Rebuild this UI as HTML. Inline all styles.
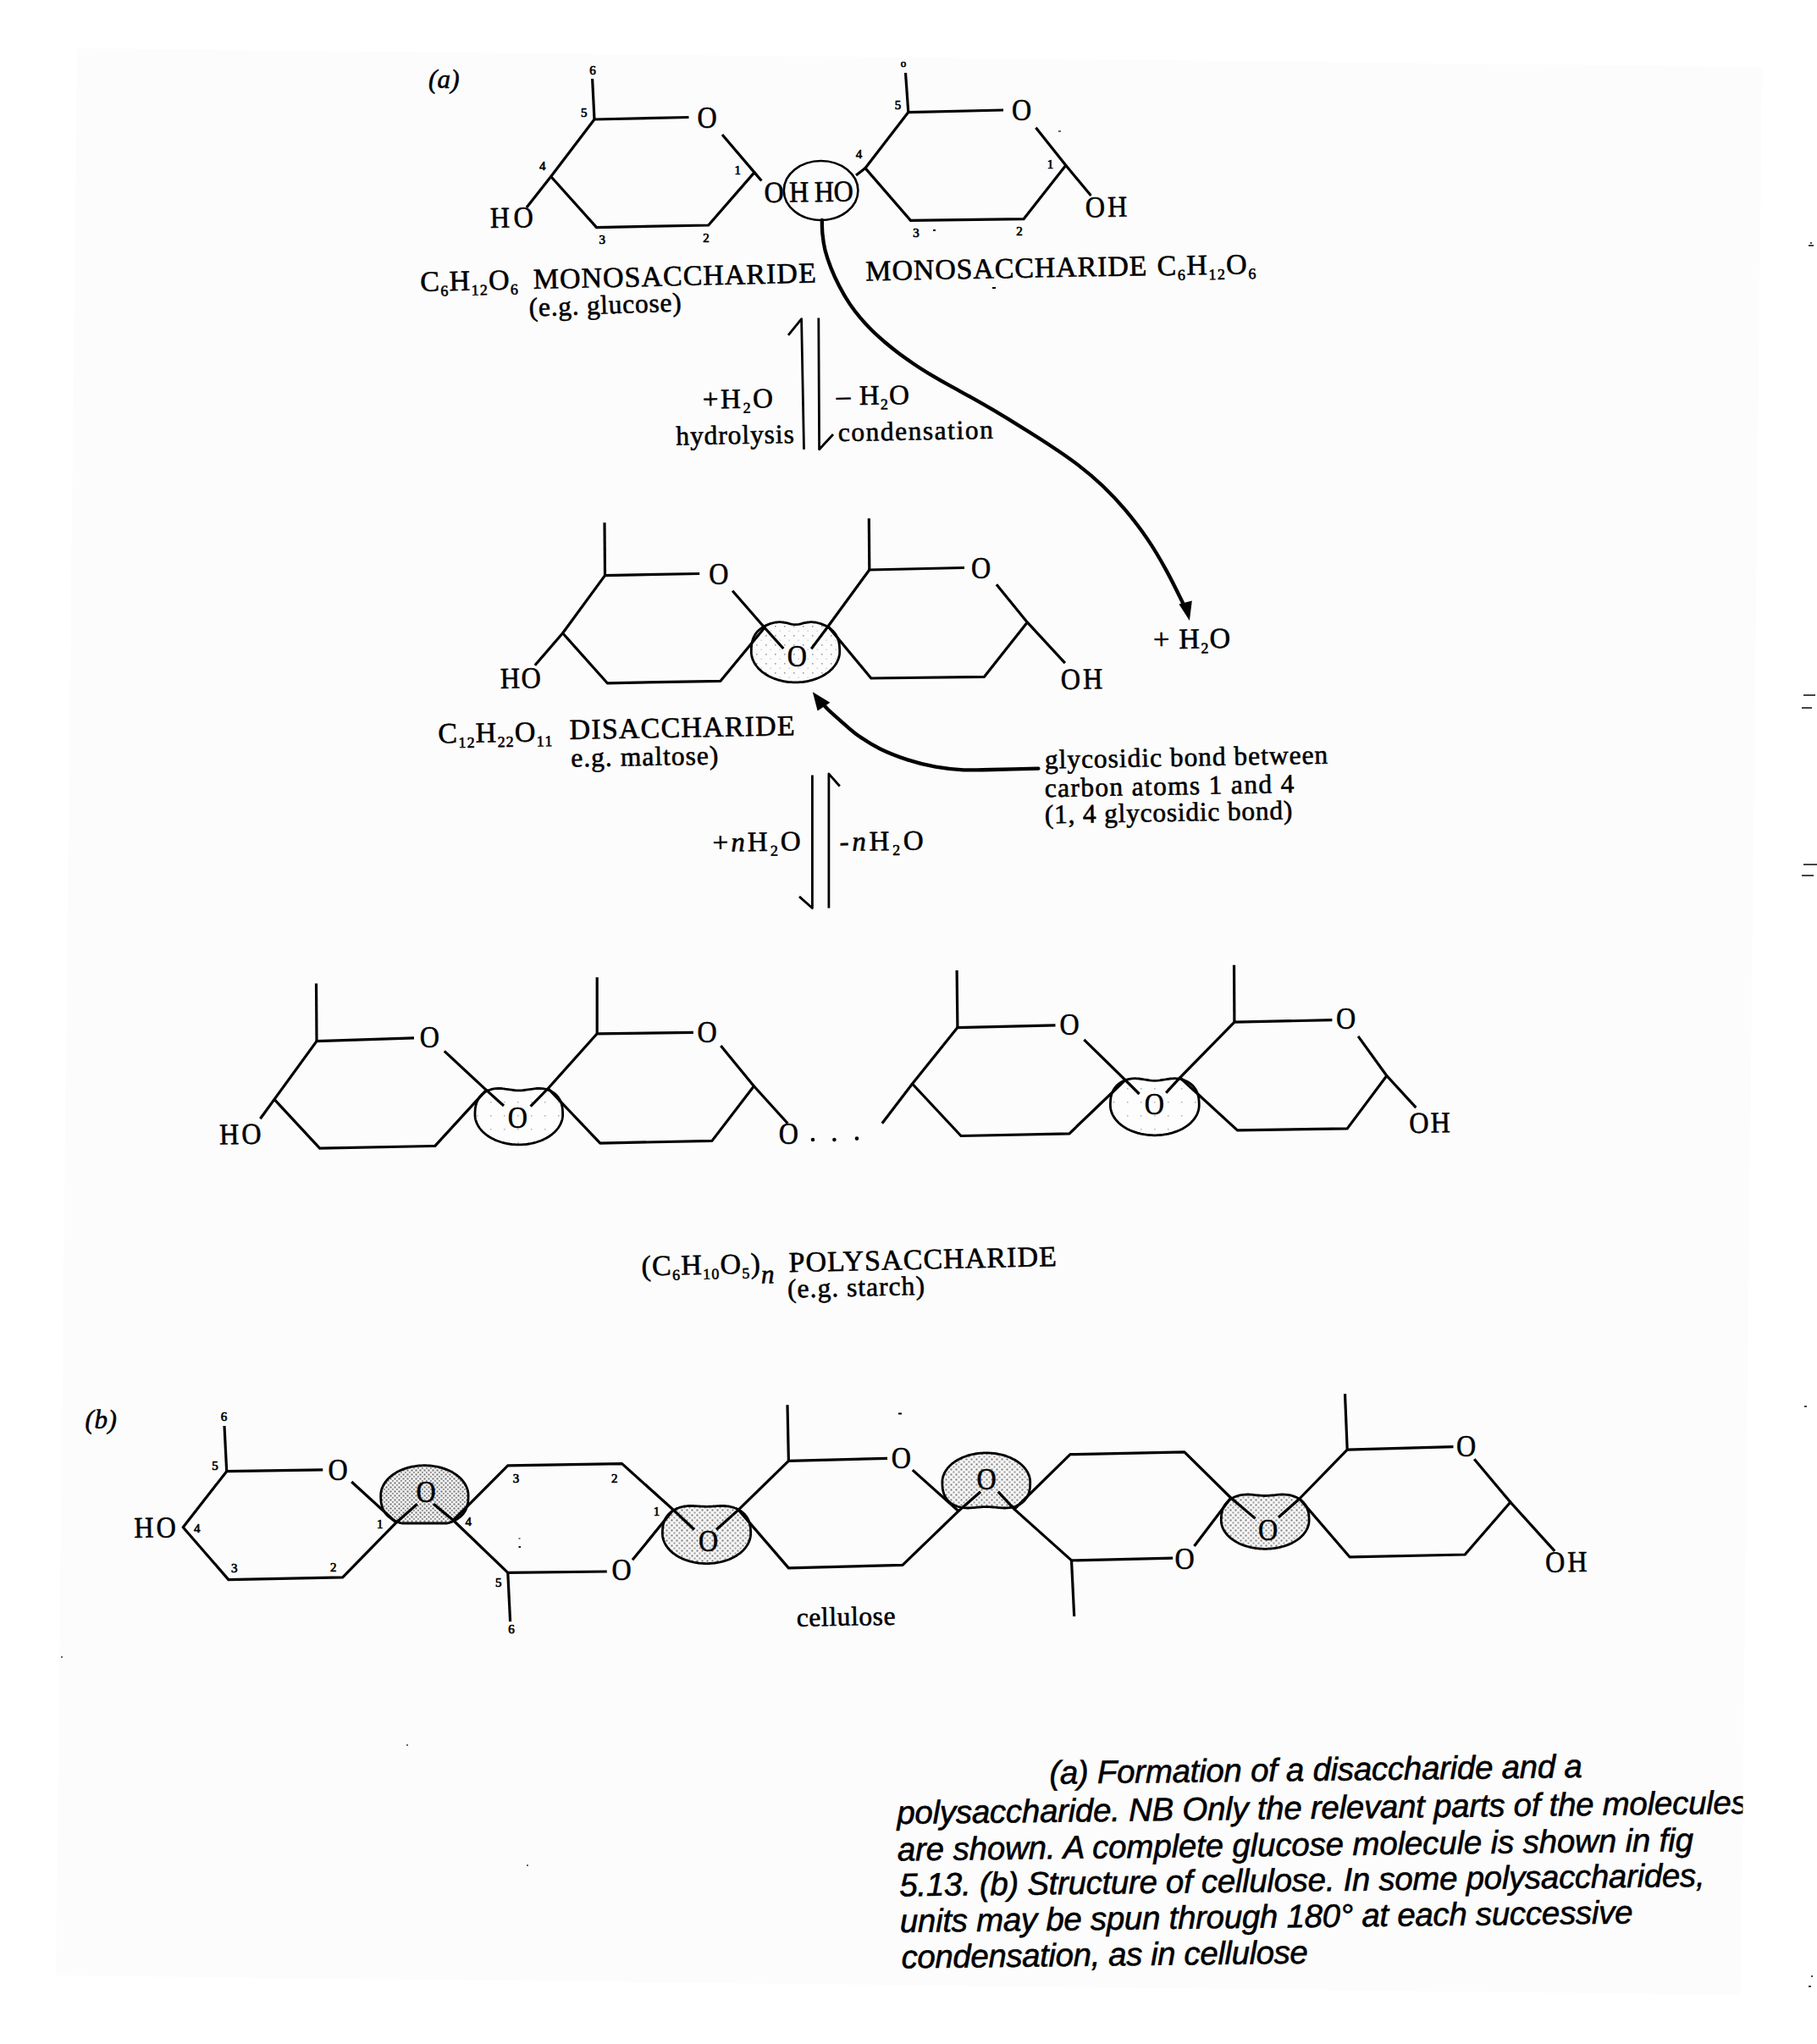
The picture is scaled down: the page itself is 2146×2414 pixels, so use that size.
<!DOCTYPE html>
<html><head><meta charset="utf-8"><style>
html,body{margin:0;padding:0;background:#fff;overflow:hidden;}
svg{display:block;}
</style></head><body>
<svg width="2146" height="2414" viewBox="0 0 2146 2414">
<defs>
<pattern id="stip" width="6" height="6" patternUnits="userSpaceOnUse">
<rect width="6" height="6" fill="#f6f6f6"/>
<rect x="0.5" y="0.5" width="2" height="2" fill="#7a7a7a"/>
<rect x="3.5" y="3.5" width="2" height="2" fill="#9a9a9a"/>
</pattern>
<pattern id="stip2" width="11" height="11" patternUnits="userSpaceOnUse">
<rect width="11" height="11" fill="#fcfcfc"/>
<rect x="2" y="2" width="1.6" height="1.6" fill="#a0a0a0"/>
<rect x="7.5" y="7.5" width="1.4" height="1.4" fill="#c8c8c8"/>
</pattern>
<pattern id="stip4" width="16" height="16" patternUnits="userSpaceOnUse">
<rect width="16" height="16" fill="#fdfdfd"/>
<rect x="3" y="5" width="1.5" height="1.5" fill="#b0b0b0"/>
</pattern>
<pattern id="stip3" width="5" height="5" patternUnits="userSpaceOnUse">
<rect width="5" height="5" fill="#f2f2f2"/>
<rect x="0.5" y="0.5" width="2" height="2" fill="#707070"/>
<rect x="3" y="3" width="1.8" height="1.8" fill="#8a8a8a"/>
</pattern>
<clipPath id="scan"><polygon points="91,57 2081,79 2056,2356 66,2333"/></clipPath>
</defs>
<rect width="2146" height="2414" fill="#fff"/>
<polygon points="91,57 2081,79 2056,2356 66,2333" fill="#fcfcfc"/>

<text x="0" y="0" transform="translate(506.0,103.5)" font-family="Liberation Serif" font-size="31" font-style="italic" textLength="36.5" lengthAdjust="spacing" stroke="#000" stroke-width="0.6" stroke-linejoin="round">(a)</text>
<polyline points="699.6,93.0 702.0,141.0" fill="none" stroke="#000" stroke-width="3.2" stroke-linejoin="round" stroke-linecap="butt"/>
<polyline points="813.5,138.5 702.0,141.0 650.7,208.5 704.6,268.6 836.7,266.0 891.0,203.6 853.0,159.0" fill="none" stroke="#000" stroke-width="3.2" stroke-linejoin="round" stroke-linecap="butt"/>
<text x="0" y="0" transform="translate(835.0,150.7) scale(0.88,1)" font-family="Liberation Serif" font-size="36.5" text-anchor="middle" stroke="#000" stroke-width="0.6" stroke-linejoin="round">O</text>
<polyline points="650.7,208.5 622.0,245.0" fill="none" stroke="#000" stroke-width="3.2" stroke-linejoin="round" stroke-linecap="butt"/>
<polyline points="891.0,203.6 899.4,213.5" fill="none" stroke="#000" stroke-width="3.2" stroke-linejoin="round" stroke-linecap="butt"/>
<text x="0" y="0" transform="translate(700.0,88.2)" font-family="Liberation Serif" font-size="15" text-anchor="middle" stroke="#000" stroke-width="0.7" stroke-linejoin="round">6</text>
<text x="0" y="0" transform="translate(689.7,137.8)" font-family="Liberation Serif" font-size="15" text-anchor="middle" stroke="#000" stroke-width="0.7" stroke-linejoin="round">5</text>
<text x="0" y="0" transform="translate(640.8,200.6)" font-family="Liberation Serif" font-size="15" text-anchor="middle" stroke="#000" stroke-width="0.7" stroke-linejoin="round">4</text>
<text x="0" y="0" transform="translate(871.3,205.6)" font-family="Liberation Serif" font-size="15" text-anchor="middle" stroke="#000" stroke-width="0.7" stroke-linejoin="round">1</text>
<text x="0" y="0" transform="translate(711.2,288.1)" font-family="Liberation Serif" font-size="15" text-anchor="middle" stroke="#000" stroke-width="0.7" stroke-linejoin="round">3</text>
<text x="0" y="0" transform="translate(834.0,286.4)" font-family="Liberation Serif" font-size="15" text-anchor="middle" stroke="#000" stroke-width="0.7" stroke-linejoin="round">2</text>
<text x="0" y="0" transform="translate(579.0,269.0) rotate(-1.0) scale(0.92,1)" font-family="Liberation Serif" font-size="35" textLength="55.4" lengthAdjust="spacing" stroke="#000" stroke-width="0.6" stroke-linejoin="round">HO</text>
<text x="0" y="0" transform="translate(902.7,239.0) rotate(-1.0) scale(0.92,1)" font-family="Liberation Serif" font-size="35" textLength="57.4" lengthAdjust="spacing" stroke="#000" stroke-width="0.6" stroke-linejoin="round">OH</text>
<text x="0" y="0" transform="translate(962.0,238.2) rotate(-1.0) scale(0.92,1)" font-family="Liberation Serif" font-size="35" textLength="50.0" lengthAdjust="spacing" stroke="#000" stroke-width="0.6" stroke-linejoin="round">HO</text>
<ellipse cx="969.6" cy="225" rx="43.8" ry="35" fill="none" stroke="#000" stroke-width="2.6"/>
<polyline points="1069.5,86.0 1072.8,132.6" fill="none" stroke="#000" stroke-width="3.2" stroke-linejoin="round" stroke-linecap="butt"/>
<polyline points="1185.0,130.0 1072.8,132.6 1022.0,198.6 1075.5,260.4 1209.0,258.7 1258.8,195.3 1223.4,150.7" fill="none" stroke="#000" stroke-width="3.2" stroke-linejoin="round" stroke-linecap="butt"/>
<text x="0" y="0" transform="translate(1206.5,142.2) scale(0.88,1)" font-family="Liberation Serif" font-size="36.5" text-anchor="middle" stroke="#000" stroke-width="0.6" stroke-linejoin="round">O</text>
<polyline points="1022.0,198.6 1011.0,207.0" fill="none" stroke="#000" stroke-width="3.2" stroke-linejoin="round" stroke-linecap="butt"/>
<polyline points="1258.8,195.3 1288.5,231.0" fill="none" stroke="#000" stroke-width="3.2" stroke-linejoin="round" stroke-linecap="butt"/>
<text x="0" y="0" transform="translate(1282.0,256.4) rotate(-1.0) scale(0.92,1)" font-family="Liberation Serif" font-size="35" textLength="53.8" lengthAdjust="spacing" stroke="#000" stroke-width="0.6" stroke-linejoin="round">OH</text>
<text x="0" y="0" transform="translate(1067.0,79.3)" font-family="Liberation Serif" font-size="13" text-anchor="middle" stroke="#000" stroke-width="0.7" stroke-linejoin="round">o</text>
<text x="0" y="0" transform="translate(1060.6,129.2)" font-family="Liberation Serif" font-size="15" text-anchor="middle" stroke="#000" stroke-width="0.7" stroke-linejoin="round">5</text>
<text x="0" y="0" transform="translate(1014.4,187.2)" font-family="Liberation Serif" font-size="15" text-anchor="middle" stroke="#000" stroke-width="0.7" stroke-linejoin="round">4</text>
<text x="0" y="0" transform="translate(1240.6,198.9)" font-family="Liberation Serif" font-size="15" text-anchor="middle" stroke="#000" stroke-width="0.7" stroke-linejoin="round">1</text>
<text x="0" y="0" transform="translate(1082.0,279.9)" font-family="Liberation Serif" font-size="15" text-anchor="middle" stroke="#000" stroke-width="0.7" stroke-linejoin="round">3</text>
<text x="0" y="0" transform="translate(1204.0,278.2)" font-family="Liberation Serif" font-size="15" text-anchor="middle" stroke="#000" stroke-width="0.7" stroke-linejoin="round">2</text>
<rect x="1102" y="271" width="3" height="2" fill="#000"/>
<text x="0" y="0" transform="translate(496.5,344.1) rotate(-1.3)" font-family="Liberation Serif" font-size="34" textLength="115.5" lengthAdjust="spacing" stroke="#000" stroke-width="0.6" stroke-linejoin="round"><tspan>C</tspan><tspan font-size="18" dy="6">6</tspan><tspan dy="-6">H</tspan><tspan font-size="18" dy="6">12</tspan><tspan dy="-6">O</tspan><tspan font-size="18" dy="6">6</tspan></text>
<text x="0" y="0" transform="translate(630.0,341.1) rotate(-1.3)" font-family="Liberation Serif" font-size="34" textLength="334.0" lengthAdjust="spacing" stroke="#000" stroke-width="0.6" stroke-linejoin="round">MONOSACCHARIDE</text>
<text x="0" y="0" transform="translate(625.0,373.6) rotate(-2.0)" font-family="Liberation Serif" font-size="31.5" textLength="180.0" lengthAdjust="spacing" stroke="#000" stroke-width="0.6" stroke-linejoin="round">(e.g. glucose)</text>
<text x="0" y="0" transform="translate(1022.6,331.4) rotate(-1.1)" font-family="Liberation Serif" font-size="34" textLength="332.0" lengthAdjust="spacing" stroke="#000" stroke-width="0.6" stroke-linejoin="round">MONOSACCHARIDE</text>
<text x="0" y="0" transform="translate(1366.8,325.2) rotate(-1.0)" font-family="Liberation Serif" font-size="34" textLength="116.6" lengthAdjust="spacing" stroke="#000" stroke-width="0.6" stroke-linejoin="round"><tspan>C</tspan><tspan font-size="18" dy="6">6</tspan><tspan dy="-6">H</tspan><tspan font-size="18" dy="6">12</tspan><tspan dy="-6">O</tspan><tspan font-size="18" dy="6">6</tspan></text>
<rect x="1172" y="339" width="4" height="2" fill="#000"/>
<polyline points="949.5,530.7 946.6,376.6 931.0,395.9" fill="none" stroke="#000" stroke-width="2.8" stroke-linejoin="round" stroke-linecap="butt"/>
<polyline points="966.8,375.5 967.6,530.7 984.0,513.0" fill="none" stroke="#000" stroke-width="2.8" stroke-linejoin="round" stroke-linecap="butt"/>
<text x="0" y="0" transform="translate(830.0,482.5) rotate(-1.0)" font-family="Liberation Serif" font-size="33" textLength="83.0" lengthAdjust="spacing" stroke="#000" stroke-width="0.6" stroke-linejoin="round"><tspan>+H</tspan><tspan font-size="18" dy="6">2</tspan><tspan dy="-6">O</tspan></text>
<text x="0" y="0" transform="translate(798.5,525.4) rotate(-1.0)" font-family="Liberation Serif" font-size="31.5" textLength="139.5" lengthAdjust="spacing" stroke="#000" stroke-width="0.6" stroke-linejoin="round">hydrolysis</text>
<text x="0" y="0" transform="translate(988.0,478.5) rotate(-1.0)" font-family="Liberation Serif" font-size="33" textLength="86.0" lengthAdjust="spacing" stroke="#000" stroke-width="0.6" stroke-linejoin="round"><tspan>– H</tspan><tspan font-size="18" dy="6">2</tspan><tspan dy="-6">O</tspan></text>
<text x="0" y="0" transform="translate(990.0,521.0) rotate(-1.0)" font-family="Liberation Serif" font-size="31.5" textLength="183.0" lengthAdjust="spacing" stroke="#000" stroke-width="0.6" stroke-linejoin="round">condensation</text>
<path d="M970.8,259.9 C970.9,262.8 970.8,271.2 971.5,277.1 C972.1,283.0 972.9,289.0 974.5,295.5 C976.2,302.0 978.5,309.0 981.3,316.1 C984.1,323.2 987.6,330.9 991.3,338.0 C995.0,345.1 999.2,352.3 1003.4,358.6 C1007.7,365.0 1012.1,370.7 1016.8,376.2 C1021.4,381.7 1026.3,386.7 1031.2,391.5 C1036.1,396.3 1041.2,400.8 1046.2,405.0 C1051.2,409.2 1055.8,412.9 1061.2,417.0 C1066.6,421.0 1072.1,425.0 1078.4,429.2 C1084.7,433.5 1091.8,438.0 1099.0,442.4 C1106.2,446.7 1113.9,451.1 1121.7,455.4 C1129.5,459.8 1137.1,463.7 1145.7,468.5 C1154.3,473.3 1163.1,478.2 1173.0,484.2 C1183.0,490.1 1194.4,497.0 1205.7,504.1 C1217.0,511.1 1229.5,518.9 1240.9,526.5 C1252.3,534.0 1263.6,541.7 1273.9,549.6 C1284.2,557.5 1293.3,565.2 1302.5,574.0 C1311.7,582.8 1320.3,591.9 1329.0,602.1 C1337.6,612.4 1346.5,623.8 1354.5,635.6 C1362.6,647.4 1370.2,660.3 1377.2,673.1 C1384.3,685.8 1393.7,705.5 1397.0,712.0" fill="none" stroke="#000" stroke-width="4.3" stroke-linecap="round"/>
<polygon points="1392.4,713.5 1407.8,709.5 1404.9,733" fill="#000"/>
<text x="0" y="0" transform="translate(1362.3,766.5) rotate(-1.0)" font-family="Liberation Serif" font-size="34" textLength="91.0" lengthAdjust="spacing" stroke="#000" stroke-width="0.6" stroke-linejoin="round"><tspan>+ H</tspan><tspan font-size="18" dy="6">2</tspan><tspan dy="-6">O</tspan></text>
<path d="M991.7,769.5 L991.7,770.6 L991.6,771.8 L991.5,772.9 L991.3,774.1 L991.1,775.2 L990.8,776.3 L990.4,777.4 L990.1,778.6 L989.6,779.7 L989.1,780.7 L988.6,781.8 L988.0,782.9 L987.4,784.0 L986.7,785.0 L986.0,786.0 L985.2,787.0 L984.4,788.0 L983.6,789.0 L982.7,790.0 L981.7,790.9 L980.7,791.8 L979.7,792.7 L978.7,793.6 L977.6,794.4 L976.4,795.2 L975.2,796.0 L974.0,796.8 L972.8,797.5 L971.5,798.3 L970.2,798.9 L968.8,799.6 L967.5,800.2 L966.1,800.8 L964.6,801.4 L963.2,801.9 L961.7,802.4 L960.2,802.9 L958.7,803.3 L957.2,803.7 L955.6,804.1 L954.1,804.5 L952.5,804.8 L950.9,805.0 L949.3,805.3 L947.7,805.5 L946.0,805.6 L944.4,805.7 L942.8,805.8 L941.1,805.9 L939.5,805.9 L937.9,805.9 L936.2,805.8 L934.6,805.7 L933.0,805.6 L931.3,805.5 L929.7,805.3 L928.1,805.0 L926.5,804.8 L924.9,804.5 L923.4,804.1 L921.8,803.7 L920.3,803.3 L918.8,802.9 L917.3,802.4 L915.8,801.9 L914.4,801.4 L912.9,800.8 L911.5,800.2 L910.2,799.6 L908.8,798.9 L907.5,798.3 L906.2,797.5 L905.0,796.8 L903.8,796.0 L902.6,795.2 L901.4,794.4 L900.3,793.6 L899.3,792.7 L898.3,791.8 L897.3,790.9 L896.3,790.0 L895.4,789.0 L894.6,788.0 L893.8,787.0 L893.0,786.0 L892.3,785.0 L891.6,784.0 L891.0,782.9 L890.4,781.8 L889.9,780.7 L889.4,779.7 L888.9,778.6 L888.6,777.4 L888.2,776.3 L887.9,775.2 L887.7,774.1 L887.5,772.9 L887.4,771.8 L887.3,770.6 L887.3,769.5 L887.3,767.0 L887.4,765.2 L887.5,763.6 L887.6,762.1 L887.8,760.8 L888.0,759.5 L888.3,758.2 L888.6,757.0 L888.9,755.9 L889.3,754.8 L889.7,753.7 L890.1,752.6 L890.6,751.6 L891.2,750.6 L891.7,749.7 L892.3,748.7 L893.0,747.8 L893.7,747.0 L894.4,746.1 L895.2,745.3 L896.0,744.5 L896.8,743.8 L897.7,743.0 L898.6,742.3 L899.5,741.6 L900.5,741.0 L901.5,740.3 L902.6,739.7 L903.7,739.1 L904.8,738.6 L906.0,738.1 L907.2,737.6 L908.4,737.1 L909.7,736.6 L911.1,736.2 L912.4,735.9 L913.8,735.5 L915.3,735.2 L916.8,735.0 L918.3,734.8 L919.9,734.7 L921.6,734.7 L923.3,734.8 L925.1,735.0 L927.0,735.3 L928.9,735.7 L931.0,736.2 L933.3,736.8 L935.9,737.3 L939.5,737.6 L943.1,737.3 L945.7,736.8 L948.0,736.2 L950.1,735.7 L952.0,735.3 L953.9,735.0 L955.7,734.8 L957.4,734.7 L959.1,734.7 L960.7,734.8 L962.2,735.0 L963.7,735.2 L965.2,735.5 L966.6,735.9 L967.9,736.2 L969.3,736.6 L970.6,737.1 L971.8,737.6 L973.0,738.1 L974.2,738.6 L975.3,739.1 L976.4,739.7 L977.5,740.3 L978.5,741.0 L979.5,741.6 L980.4,742.3 L981.3,743.0 L982.2,743.8 L983.0,744.5 L983.8,745.3 L984.6,746.1 L985.3,747.0 L986.0,747.8 L986.7,748.7 L987.3,749.7 L987.8,750.6 L988.4,751.6 L988.9,752.6 L989.3,753.7 L989.7,754.8 L990.1,755.9 L990.4,757.0 L990.7,758.2 L991.0,759.5 L991.2,760.8 L991.4,762.1 L991.5,763.6 L991.6,765.2 L991.7,767.0 L991.7,769.5Z" fill="url(#stip2)" stroke="#000" stroke-width="2.8" stroke-linejoin="round"/>
<polyline points="714.0,617.3 714.5,679.6" fill="none" stroke="#000" stroke-width="3.2" stroke-linejoin="round" stroke-linecap="butt"/>
<polyline points="826.2,677.5 714.5,679.6 664.6,747.8 717.3,806.8 851.0,804.3 903.0,741.2 865.1,697.8" fill="none" stroke="#000" stroke-width="3.2" stroke-linejoin="round" stroke-linecap="butt"/>
<text x="0" y="0" transform="translate(848.8,689.7) scale(0.88,1)" font-family="Liberation Serif" font-size="36.5" text-anchor="middle" stroke="#000" stroke-width="0.6" stroke-linejoin="round">O</text>
<polyline points="903.0,741.2 925.3,766.0" fill="none" stroke="#000" stroke-width="3.2" stroke-linejoin="round" stroke-linecap="butt"/>
<polyline points="664.6,747.8 631.8,785.7" fill="none" stroke="#000" stroke-width="3.2" stroke-linejoin="round" stroke-linecap="butt"/>
<text x="0" y="0" transform="translate(591.0,813.0) rotate(-1.0) scale(0.92,1)" font-family="Liberation Serif" font-size="35" textLength="52.2" lengthAdjust="spacing" stroke="#000" stroke-width="0.6" stroke-linejoin="round">HO</text>
<text x="0" y="0" transform="translate(941.4,787.2) scale(0.88,1)" font-family="Liberation Serif" font-size="36.5" text-anchor="middle" stroke="#000" stroke-width="0.6" stroke-linejoin="round">O</text>
<polyline points="1026.3,612.3 1026.8,673.0" fill="none" stroke="#000" stroke-width="3.2" stroke-linejoin="round" stroke-linecap="butt"/>
<polyline points="1139.0,670.5 1026.8,673.0 978.0,739.8 1028.8,801.0 1162.5,799.3 1213.3,734.9 1176.9,690.3" fill="none" stroke="#000" stroke-width="3.2" stroke-linejoin="round" stroke-linecap="butt"/>
<text x="0" y="0" transform="translate(1158.6,682.9) scale(0.88,1)" font-family="Liberation Serif" font-size="36.5" text-anchor="middle" stroke="#000" stroke-width="0.6" stroke-linejoin="round">O</text>
<polyline points="978.0,739.8 958.2,766.3" fill="none" stroke="#000" stroke-width="3.2" stroke-linejoin="round" stroke-linecap="butt"/>
<polyline points="1213.3,734.9 1257.9,783.2" fill="none" stroke="#000" stroke-width="3.2" stroke-linejoin="round" stroke-linecap="butt"/>
<text x="0" y="0" transform="translate(1253.0,814.0) rotate(-1.0) scale(0.92,1)" font-family="Liberation Serif" font-size="35" textLength="53.8" lengthAdjust="spacing" stroke="#000" stroke-width="0.6" stroke-linejoin="round">OH</text>
<text x="0" y="0" transform="translate(517.5,877.5) rotate(-1.0)" font-family="Liberation Serif" font-size="34" textLength="134.8" lengthAdjust="spacing" stroke="#000" stroke-width="0.6" stroke-linejoin="round"><tspan>C</tspan><tspan font-size="18" dy="6">12</tspan><tspan dy="-6">H</tspan><tspan font-size="18" dy="6">22</tspan><tspan dy="-6">O</tspan><tspan font-size="18" dy="6">11</tspan></text>
<text x="0" y="0" transform="translate(672.8,872.9) rotate(-1.0)" font-family="Liberation Serif" font-size="34" textLength="266.0" lengthAdjust="spacing" stroke="#000" stroke-width="0.6" stroke-linejoin="round">DISACCHARIDE</text>
<text x="0" y="0" transform="translate(674.5,905.5) rotate(-1.0)" font-family="Liberation Serif" font-size="31.5" textLength="174.0" lengthAdjust="spacing" stroke="#000" stroke-width="0.6" stroke-linejoin="round">e.g. maltose)</text>
<path d="M1226.4,907.6 C1217.2,907.8 1185.8,908.7 1171.1,909.0 C1156.4,909.3 1149.1,909.8 1138.1,909.3 C1127.1,908.8 1116.1,907.7 1105.1,905.7 C1094.1,903.7 1083.1,901.0 1072.1,897.4 C1061.1,893.8 1048.7,888.9 1039.1,884.2 C1029.5,879.5 1021.7,874.5 1014.3,869.3 C1006.9,864.1 1000.5,858.0 994.5,852.8 C988.5,847.6 982.1,842.0 978.0,838.0 C973.9,834.0 971.3,830.5 970.0,829.0" fill="none" stroke="#000" stroke-width="4.3" stroke-linecap="round"/>
<polygon points="959.8,817.3 965.6,839.6 980.4,829.7" fill="#000"/>
<text x="0" y="0" transform="translate(1234.0,907.5) rotate(-1.0)" font-family="Liberation Serif" font-size="31.5" textLength="334.4" lengthAdjust="spacing" stroke="#000" stroke-width="0.6" stroke-linejoin="round">glycosidic bond between</text>
<text x="0" y="0" transform="translate(1234.0,941.2) rotate(-1.0)" font-family="Liberation Serif" font-size="31.5" textLength="294.5" lengthAdjust="spacing" stroke="#000" stroke-width="0.6" stroke-linejoin="round">carbon atoms 1 and 4</text>
<text x="0" y="0" transform="translate(1234.0,972.5) rotate(-1.0)" font-family="Liberation Serif" font-size="31.5" textLength="292.6" lengthAdjust="spacing" stroke="#000" stroke-width="0.6" stroke-linejoin="round">(1, 4 glycosidic bond)</text>
<polyline points="959.4,915.5 959.4,1072.5 944.0,1058.9" fill="none" stroke="#000" stroke-width="2.8" stroke-linejoin="round" stroke-linecap="butt"/>
<polyline points="978.9,1072.5 978.9,913.8 991.8,928.5" fill="none" stroke="#000" stroke-width="2.8" stroke-linejoin="round" stroke-linecap="butt"/>
<text x="0" y="0" transform="translate(841.7,1006.0) rotate(-1.0)" font-family="Liberation Serif" font-size="33" textLength="104.1" lengthAdjust="spacing" stroke="#000" stroke-width="0.6" stroke-linejoin="round"><tspan>+</tspan><tspan font-style="italic">n</tspan><tspan>H</tspan><tspan font-size="18" dy="6">2</tspan><tspan dy="-6">O</tspan></text>
<text x="0" y="0" transform="translate(991.8,1005.0) rotate(-1.0)" font-family="Liberation Serif" font-size="33" textLength="99.0" lengthAdjust="spacing" stroke="#000" stroke-width="0.6" stroke-linejoin="round"><tspan>-</tspan><tspan font-style="italic">n</tspan><tspan>H</tspan><tspan font-size="18" dy="6">2</tspan><tspan dy="-6">O</tspan></text>
<path d="M664.6,1316.4 L664.6,1317.5 L664.5,1318.6 L664.4,1319.7 L664.2,1320.8 L664.0,1322.0 L663.7,1323.1 L663.4,1324.1 L663.0,1325.2 L662.5,1326.3 L662.1,1327.4 L661.5,1328.4 L661.0,1329.5 L660.3,1330.5 L659.7,1331.5 L659.0,1332.5 L658.2,1333.5 L657.4,1334.5 L656.5,1335.4 L655.6,1336.4 L654.7,1337.3 L653.7,1338.2 L652.7,1339.0 L651.7,1339.9 L650.6,1340.7 L649.4,1341.5 L648.3,1342.3 L647.1,1343.0 L645.8,1343.8 L644.5,1344.5 L643.2,1345.1 L641.9,1345.8 L640.6,1346.4 L639.2,1347.0 L637.8,1347.5 L636.3,1348.0 L634.9,1348.5 L633.4,1349.0 L631.9,1349.4 L630.3,1349.8 L628.8,1350.2 L627.3,1350.5 L625.7,1350.8 L624.1,1351.0 L622.5,1351.3 L620.9,1351.5 L619.3,1351.6 L617.7,1351.7 L616.1,1351.8 L614.4,1351.9 L612.8,1351.9 L611.2,1351.9 L609.5,1351.8 L607.9,1351.7 L606.3,1351.6 L604.7,1351.5 L603.1,1351.3 L601.5,1351.0 L599.9,1350.8 L598.3,1350.5 L596.8,1350.2 L595.3,1349.8 L593.7,1349.4 L592.2,1349.0 L590.7,1348.5 L589.3,1348.0 L587.8,1347.5 L586.4,1347.0 L585.0,1346.4 L583.7,1345.8 L582.4,1345.1 L581.1,1344.5 L579.8,1343.8 L578.5,1343.0 L577.3,1342.3 L576.2,1341.5 L575.0,1340.7 L573.9,1339.9 L572.9,1339.0 L571.9,1338.2 L570.9,1337.3 L570.0,1336.4 L569.1,1335.4 L568.2,1334.5 L567.4,1333.5 L566.6,1332.5 L565.9,1331.5 L565.3,1330.5 L564.6,1329.5 L564.1,1328.4 L563.5,1327.4 L563.1,1326.3 L562.6,1325.2 L562.2,1324.1 L561.9,1323.1 L561.6,1322.0 L561.4,1320.8 L561.2,1319.7 L561.1,1318.6 L561.0,1317.5 L561.0,1316.4 L561.0,1314.0 L561.1,1312.2 L561.2,1310.7 L561.3,1309.3 L561.5,1308.0 L561.7,1306.7 L562.0,1305.5 L562.3,1304.3 L562.6,1303.2 L563.0,1302.1 L563.4,1301.1 L563.8,1300.1 L564.3,1299.1 L564.8,1298.1 L565.4,1297.2 L566.0,1296.3 L566.6,1295.5 L567.3,1294.6 L568.0,1293.8 L568.8,1293.1 L569.6,1292.3 L570.4,1291.6 L571.3,1290.9 L572.2,1290.3 L573.1,1289.7 L574.1,1289.1 L575.1,1288.6 L576.2,1288.1 L577.3,1287.6 L578.4,1287.2 L579.5,1286.8 L580.7,1286.4 L582.0,1286.1 L583.3,1285.9 L584.6,1285.7 L585.9,1285.6 L587.3,1285.5 L588.8,1285.4 L590.3,1285.5 L591.8,1285.5 L593.4,1285.7 L595.0,1285.8 L596.7,1286.1 L598.5,1286.3 L600.4,1286.6 L602.3,1286.9 L604.4,1287.2 L606.6,1287.5 L609.2,1287.8 L612.8,1287.9 L616.4,1287.8 L619.0,1287.5 L621.2,1287.2 L623.3,1286.9 L625.2,1286.6 L627.1,1286.3 L628.9,1286.1 L630.6,1285.8 L632.2,1285.7 L633.8,1285.5 L635.3,1285.5 L636.8,1285.4 L638.3,1285.5 L639.7,1285.6 L641.0,1285.7 L642.3,1285.9 L643.6,1286.1 L644.9,1286.4 L646.1,1286.8 L647.2,1287.2 L648.3,1287.6 L649.4,1288.1 L650.5,1288.6 L651.5,1289.1 L652.5,1289.7 L653.4,1290.3 L654.3,1290.9 L655.2,1291.6 L656.0,1292.3 L656.8,1293.1 L657.6,1293.8 L658.3,1294.6 L659.0,1295.5 L659.6,1296.3 L660.2,1297.2 L660.8,1298.1 L661.3,1299.1 L661.8,1300.1 L662.2,1301.1 L662.6,1302.1 L663.0,1303.2 L663.3,1304.3 L663.6,1305.5 L663.9,1306.7 L664.1,1308.0 L664.3,1309.3 L664.4,1310.7 L664.5,1312.2 L664.6,1314.0 L664.6,1316.5Z" fill="url(#stip4)" stroke="#000" stroke-width="2.8" stroke-linejoin="round"/>
<path d="M1416.2,1305.3 L1416.2,1306.4 L1416.1,1307.5 L1416.0,1308.6 L1415.8,1309.7 L1415.6,1310.9 L1415.3,1312.0 L1414.9,1313.0 L1414.6,1314.1 L1414.1,1315.2 L1413.6,1316.3 L1413.1,1317.3 L1412.5,1318.4 L1411.9,1319.4 L1411.2,1320.4 L1410.5,1321.4 L1409.7,1322.4 L1408.9,1323.4 L1408.0,1324.3 L1407.1,1325.3 L1406.2,1326.2 L1405.2,1327.1 L1404.2,1327.9 L1403.1,1328.8 L1402.0,1329.6 L1400.9,1330.4 L1399.7,1331.2 L1398.5,1331.9 L1397.2,1332.7 L1395.9,1333.4 L1394.6,1334.0 L1393.3,1334.7 L1391.9,1335.3 L1390.5,1335.9 L1389.0,1336.4 L1387.6,1336.9 L1386.1,1337.4 L1384.6,1337.9 L1383.1,1338.3 L1381.5,1338.7 L1380.0,1339.1 L1378.4,1339.4 L1376.8,1339.7 L1375.2,1339.9 L1373.6,1340.2 L1372.0,1340.4 L1370.4,1340.5 L1368.7,1340.6 L1367.1,1340.7 L1365.4,1340.8 L1363.8,1340.8 L1362.2,1340.8 L1360.5,1340.7 L1358.9,1340.6 L1357.2,1340.5 L1355.6,1340.4 L1354.0,1340.2 L1352.4,1339.9 L1350.8,1339.7 L1349.2,1339.4 L1347.6,1339.1 L1346.1,1338.7 L1344.5,1338.3 L1343.0,1337.9 L1341.5,1337.4 L1340.0,1336.9 L1338.6,1336.4 L1337.1,1335.9 L1335.7,1335.3 L1334.3,1334.7 L1333.0,1334.0 L1331.7,1333.4 L1330.4,1332.7 L1329.1,1331.9 L1327.9,1331.2 L1326.7,1330.4 L1325.6,1329.6 L1324.5,1328.8 L1323.4,1327.9 L1322.4,1327.1 L1321.4,1326.2 L1320.5,1325.3 L1319.6,1324.3 L1318.7,1323.4 L1317.9,1322.4 L1317.1,1321.4 L1316.4,1320.4 L1315.7,1319.4 L1315.1,1318.4 L1314.5,1317.3 L1314.0,1316.3 L1313.5,1315.2 L1313.0,1314.1 L1312.7,1313.0 L1312.3,1312.0 L1312.0,1310.9 L1311.8,1309.7 L1311.6,1308.6 L1311.5,1307.5 L1311.4,1306.4 L1311.4,1305.3 L1311.4,1302.8 L1311.5,1301.1 L1311.6,1299.6 L1311.7,1298.1 L1311.9,1296.8 L1312.1,1295.5 L1312.4,1294.3 L1312.7,1293.2 L1313.0,1292.0 L1313.4,1291.0 L1313.8,1289.9 L1314.3,1288.9 L1314.7,1287.9 L1315.3,1286.9 L1315.9,1286.0 L1316.5,1285.1 L1317.1,1284.3 L1317.8,1283.4 L1318.5,1282.6 L1319.3,1281.8 L1320.1,1281.1 L1320.9,1280.4 L1321.8,1279.7 L1322.7,1279.0 L1323.7,1278.4 L1324.7,1277.8 L1325.7,1277.2 L1326.7,1276.7 L1327.8,1276.2 L1329.0,1275.7 L1330.2,1275.3 L1331.4,1274.9 L1332.6,1274.6 L1333.9,1274.3 L1335.3,1274.1 L1336.6,1273.9 L1338.0,1273.8 L1339.5,1273.7 L1341.0,1273.7 L1342.6,1273.8 L1344.2,1273.9 L1345.8,1274.0 L1347.6,1274.3 L1349.3,1274.5 L1351.2,1274.9 L1353.2,1275.2 L1355.3,1275.5 L1357.6,1275.9 L1360.1,1276.1 L1363.8,1276.3 L1367.5,1276.1 L1370.0,1275.9 L1372.3,1275.5 L1374.4,1275.2 L1376.4,1274.9 L1378.3,1274.5 L1380.0,1274.3 L1381.8,1274.0 L1383.4,1273.9 L1385.0,1273.8 L1386.6,1273.7 L1388.1,1273.7 L1389.6,1273.8 L1391.0,1273.9 L1392.3,1274.1 L1393.7,1274.3 L1395.0,1274.6 L1396.2,1274.9 L1397.4,1275.3 L1398.6,1275.7 L1399.8,1276.2 L1400.9,1276.7 L1401.9,1277.2 L1402.9,1277.8 L1403.9,1278.4 L1404.9,1279.0 L1405.8,1279.7 L1406.7,1280.4 L1407.5,1281.1 L1408.3,1281.8 L1409.1,1282.6 L1409.8,1283.4 L1410.5,1284.3 L1411.1,1285.1 L1411.7,1286.0 L1412.3,1286.9 L1412.9,1287.9 L1413.3,1288.9 L1413.8,1289.9 L1414.2,1291.0 L1414.6,1292.0 L1414.9,1293.2 L1415.2,1294.3 L1415.5,1295.5 L1415.7,1296.8 L1415.9,1298.1 L1416.0,1299.6 L1416.1,1301.1 L1416.2,1302.8 L1416.2,1305.3Z" fill="url(#stip4)" stroke="#000" stroke-width="2.8" stroke-linejoin="round"/>
<polyline points="373.5,1161.6 374.0,1229.6" fill="none" stroke="#000" stroke-width="3.2" stroke-linejoin="round" stroke-linecap="butt"/>
<polyline points="489.0,1225.8 374.0,1229.6 324.0,1298.4 377.6,1356.2 513.8,1353.4 574.3,1287.4 524.8,1241.4" fill="none" stroke="#000" stroke-width="3.2" stroke-linejoin="round" stroke-linecap="butt"/>
<text x="0" y="0" transform="translate(507.3,1237.2) scale(0.88,1)" font-family="Liberation Serif" font-size="36.5" text-anchor="middle" stroke="#000" stroke-width="0.6" stroke-linejoin="round">O</text>
<polyline points="574.3,1287.4 595.0,1306.0" fill="none" stroke="#000" stroke-width="3.2" stroke-linejoin="round" stroke-linecap="butt"/>
<polyline points="324.0,1298.4 307.4,1321.3" fill="none" stroke="#000" stroke-width="3.2" stroke-linejoin="round" stroke-linecap="butt"/>
<text x="0" y="0" transform="translate(259.3,1351.5) rotate(-1.0) scale(0.92,1)" font-family="Liberation Serif" font-size="35" textLength="53.8" lengthAdjust="spacing" stroke="#000" stroke-width="0.6" stroke-linejoin="round">HO</text>
<text x="0" y="0" transform="translate(611.3,1331.5) scale(0.88,1)" font-family="Liberation Serif" font-size="36.5" text-anchor="middle" stroke="#000" stroke-width="0.6" stroke-linejoin="round">O</text>
<polyline points="705.2,1154.2 705.2,1220.8" fill="none" stroke="#000" stroke-width="3.2" stroke-linejoin="round" stroke-linecap="butt"/>
<polyline points="818.9,1219.4 705.2,1220.8 647.3,1285.5 708.8,1350.1 840.9,1347.4 890.4,1282.7 851.3,1235.1" fill="none" stroke="#000" stroke-width="3.2" stroke-linejoin="round" stroke-linecap="butt"/>
<text x="0" y="0" transform="translate(835.1,1230.9) scale(0.88,1)" font-family="Liberation Serif" font-size="36.5" text-anchor="middle" stroke="#000" stroke-width="0.6" stroke-linejoin="round">O</text>
<polyline points="626.6,1306.7 647.3,1285.5" fill="none" stroke="#000" stroke-width="3.2" stroke-linejoin="round" stroke-linecap="butt"/>
<polyline points="890.4,1282.7 930.3,1326.8" fill="none" stroke="#000" stroke-width="3.2" stroke-linejoin="round" stroke-linecap="butt"/>
<text x="0" y="0" transform="translate(931.3,1350.6) scale(0.88,1)" font-family="Liberation Serif" font-size="36.5" text-anchor="middle" stroke="#000" stroke-width="0.6" stroke-linejoin="round">O</text>
<circle cx="960" cy="1346" r="2.3" fill="#000"/>
<circle cx="985.4" cy="1346" r="2.3" fill="#000"/>
<circle cx="1012" cy="1344.6" r="2.3" fill="#000"/>
<polyline points="1130.1,1146.1 1130.9,1213.6" fill="none" stroke="#000" stroke-width="3.2" stroke-linejoin="round" stroke-linecap="butt"/>
<polyline points="1246.5,1210.8 1130.9,1213.6 1077.5,1280.0 1135.0,1341.5 1263.0,1338.8 1329.0,1275.5 1280.3,1227.9" fill="none" stroke="#000" stroke-width="3.2" stroke-linejoin="round" stroke-linecap="butt"/>
<text x="0" y="0" transform="translate(1263.0,1222.2) scale(0.88,1)" font-family="Liberation Serif" font-size="36.5" text-anchor="middle" stroke="#000" stroke-width="0.6" stroke-linejoin="round">O</text>
<polyline points="1041.8,1326.8 1077.5,1280.0" fill="none" stroke="#000" stroke-width="3.2" stroke-linejoin="round" stroke-linecap="butt"/>
<polyline points="1329.0,1275.5 1345.6,1292.0" fill="none" stroke="#000" stroke-width="3.2" stroke-linejoin="round" stroke-linecap="butt"/>
<text x="0" y="0" transform="translate(1363.4,1315.9) scale(0.88,1)" font-family="Liberation Serif" font-size="36.5" text-anchor="middle" stroke="#000" stroke-width="0.6" stroke-linejoin="round">O</text>
<polyline points="1457.5,1139.7 1457.9,1207.1" fill="none" stroke="#000" stroke-width="3.2" stroke-linejoin="round" stroke-linecap="butt"/>
<polyline points="1573.4,1204.7 1457.9,1207.1 1393.7,1272.7 1461.4,1334.9 1591.2,1332.9 1637.8,1270.5 1604.1,1223.9" fill="none" stroke="#000" stroke-width="3.2" stroke-linejoin="round" stroke-linecap="butt"/>
<text x="0" y="0" transform="translate(1589.7,1215.3) scale(0.88,1)" font-family="Liberation Serif" font-size="36.5" text-anchor="middle" stroke="#000" stroke-width="0.6" stroke-linejoin="round">O</text>
<polyline points="1377.2,1290.6 1393.7,1272.7" fill="none" stroke="#000" stroke-width="3.2" stroke-linejoin="round" stroke-linecap="butt"/>
<polyline points="1637.8,1270.5 1672.4,1308.1" fill="none" stroke="#000" stroke-width="3.2" stroke-linejoin="round" stroke-linecap="butt"/>
<text x="0" y="0" transform="translate(1664.5,1337.9) rotate(-1.0) scale(0.92,1)" font-family="Liberation Serif" font-size="35" textLength="52.7" lengthAdjust="spacing" stroke="#000" stroke-width="0.6" stroke-linejoin="round">OH</text>
<text x="0" y="0" transform="translate(757.8,1506.5) rotate(-1.3)" font-family="Liberation Serif" font-size="34" textLength="140.2" lengthAdjust="spacing" stroke="#000" stroke-width="0.6" stroke-linejoin="round"><tspan>(C</tspan><tspan font-size="18" dy="6">6</tspan><tspan dy="-6">H</tspan><tspan font-size="18" dy="6">10</tspan><tspan dy="-6">O</tspan><tspan font-size="18" dy="6">5</tspan><tspan dy="-6">)</tspan></text>
<text x="0" y="0" transform="translate(899.0,1515.5) rotate(-1.0)" font-family="Liberation Serif" font-size="31.5" font-style="italic" textLength="16.0" lengthAdjust="spacing" stroke="#000" stroke-width="0.6" stroke-linejoin="round">n</text>
<text x="0" y="0" transform="translate(931.7,1502.2) rotate(-1.3)" font-family="Liberation Serif" font-size="34" textLength="316.5" lengthAdjust="spacing" stroke="#000" stroke-width="0.6" stroke-linejoin="round">POLYSACCHARIDE</text>
<text x="0" y="0" transform="translate(930.2,1532.5) rotate(-1.3)" font-family="Liberation Serif" font-size="31.5" textLength="162.0" lengthAdjust="spacing" stroke="#000" stroke-width="0.6" stroke-linejoin="round">(e.g. starch)</text>
<text x="0" y="0" transform="translate(100.6,1687.0)" font-family="Liberation Serif" font-size="31" font-style="italic" textLength="37.2" lengthAdjust="spacing" stroke="#000" stroke-width="0.6" stroke-linejoin="round">(b)</text>
<path d="M553.1,1766.2 L553.1,1768.7 L553.0,1770.4 L552.9,1772.0 L552.8,1773.4 L552.6,1774.7 L552.4,1776.0 L552.1,1777.2 L551.8,1778.4 L551.5,1779.5 L551.1,1780.6 L550.7,1781.6 L550.3,1782.7 L549.8,1783.6 L549.3,1784.6 L548.7,1785.5 L548.1,1786.4 L547.5,1787.3 L546.8,1788.2 L546.1,1789.0 L545.3,1789.8 L544.5,1790.6 L543.7,1791.3 L542.8,1792.0 L541.9,1792.7 L541.0,1793.4 L540.0,1794.0 L539.0,1794.7 L538.0,1795.2 L536.9,1795.8 L535.8,1796.4 L534.6,1796.9 L533.4,1797.4 L532.2,1797.8 L530.9,1798.3 L529.6,1798.7 L528.2,1799.0 L526.8,1799.0 L525.4,1799.0 L523.9,1799.0 L522.3,1799.0 L520.8,1799.0 L519.1,1799.0 L517.4,1799.0 L515.7,1799.0 L513.8,1799.0 L511.9,1799.0 L509.8,1799.0 L507.5,1799.0 L505.0,1799.0 L501.4,1799.0 L497.8,1799.0 L495.3,1799.0 L493.0,1799.0 L490.9,1799.0 L489.0,1799.0 L487.1,1799.0 L485.4,1799.0 L483.7,1799.0 L482.0,1799.0 L480.5,1799.0 L478.9,1799.0 L477.4,1799.0 L476.0,1799.0 L474.6,1799.0 L473.2,1798.7 L471.9,1798.3 L470.6,1797.8 L469.4,1797.4 L468.2,1796.9 L467.0,1796.4 L465.9,1795.8 L464.8,1795.2 L463.8,1794.7 L462.8,1794.0 L461.8,1793.4 L460.9,1792.7 L460.0,1792.0 L459.1,1791.3 L458.3,1790.6 L457.5,1789.8 L456.7,1789.0 L456.0,1788.2 L455.3,1787.3 L454.7,1786.4 L454.1,1785.5 L453.5,1784.6 L453.0,1783.6 L452.5,1782.7 L452.1,1781.6 L451.7,1780.6 L451.3,1779.5 L451.0,1778.4 L450.7,1777.2 L450.4,1776.0 L450.2,1774.7 L450.0,1773.4 L449.9,1772.0 L449.8,1770.4 L449.7,1768.7 L449.7,1766.2 L449.7,1765.1 L449.8,1764.0 L449.9,1762.9 L450.1,1761.8 L450.3,1760.6 L450.6,1759.5 L450.9,1758.5 L451.3,1757.4 L451.8,1756.3 L452.2,1755.2 L452.8,1754.2 L453.3,1753.1 L454.0,1752.1 L454.6,1751.1 L455.3,1750.1 L456.1,1749.1 L456.9,1748.1 L457.7,1747.2 L458.6,1746.2 L459.6,1745.3 L460.5,1744.4 L461.6,1743.6 L462.6,1742.7 L463.7,1741.9 L464.8,1741.1 L466.0,1740.3 L467.2,1739.6 L468.4,1738.8 L469.7,1738.1 L471.0,1737.5 L472.3,1736.8 L473.7,1736.2 L475.1,1735.6 L476.5,1735.1 L477.9,1734.6 L479.4,1734.1 L480.9,1733.6 L482.4,1733.2 L483.9,1732.8 L485.4,1732.4 L487.0,1732.1 L488.5,1731.8 L490.1,1731.6 L491.7,1731.3 L493.3,1731.1 L494.9,1731.0 L496.5,1730.9 L498.2,1730.8 L499.8,1730.7 L501.4,1730.7 L503.0,1730.7 L504.6,1730.8 L506.3,1730.9 L507.9,1731.0 L509.5,1731.1 L511.1,1731.3 L512.7,1731.6 L514.3,1731.8 L515.8,1732.1 L517.4,1732.4 L518.9,1732.8 L520.4,1733.2 L521.9,1733.6 L523.4,1734.1 L524.9,1734.6 L526.3,1735.1 L527.7,1735.6 L529.1,1736.2 L530.5,1736.8 L531.8,1737.5 L533.1,1738.1 L534.4,1738.8 L535.6,1739.6 L536.8,1740.3 L538.0,1741.1 L539.1,1741.9 L540.2,1742.7 L541.2,1743.6 L542.3,1744.4 L543.2,1745.3 L544.2,1746.2 L545.1,1747.2 L545.9,1748.1 L546.7,1749.1 L547.5,1750.1 L548.2,1751.1 L548.8,1752.1 L549.5,1753.1 L550.0,1754.2 L550.6,1755.2 L551.0,1756.3 L551.5,1757.4 L551.9,1758.5 L552.2,1759.5 L552.5,1760.6 L552.7,1761.8 L552.9,1762.9 L553.0,1764.0 L553.1,1765.1 L553.1,1766.2Z" fill="url(#stip3)" stroke="#000" stroke-width="2.8" stroke-linejoin="round"/>
<path d="M886.6,1811.2 L886.6,1812.3 L886.5,1813.4 L886.4,1814.5 L886.2,1815.6 L886.0,1816.7 L885.7,1817.8 L885.3,1818.9 L885.0,1820.0 L884.5,1821.1 L884.1,1822.1 L883.5,1823.2 L882.9,1824.2 L882.3,1825.3 L881.6,1826.3 L880.9,1827.3 L880.2,1828.3 L879.3,1829.2 L878.5,1830.2 L877.6,1831.1 L876.6,1832.0 L875.7,1832.9 L874.6,1833.8 L873.6,1834.6 L872.5,1835.4 L871.3,1836.2 L870.2,1837.0 L869.0,1837.8 L867.7,1838.5 L866.4,1839.2 L865.1,1839.8 L863.8,1840.5 L862.4,1841.1 L861.0,1841.7 L859.6,1842.2 L858.2,1842.7 L856.7,1843.2 L855.2,1843.7 L853.7,1844.1 L852.1,1844.5 L850.6,1844.9 L849.0,1845.2 L847.5,1845.5 L845.9,1845.7 L844.3,1846.0 L842.7,1846.2 L841.0,1846.3 L839.4,1846.4 L837.8,1846.5 L836.1,1846.6 L834.5,1846.6 L832.9,1846.6 L831.2,1846.5 L829.6,1846.4 L828.0,1846.3 L826.3,1846.2 L824.7,1846.0 L823.1,1845.7 L821.5,1845.5 L820.0,1845.2 L818.4,1844.9 L816.9,1844.5 L815.3,1844.1 L813.8,1843.7 L812.3,1843.2 L810.8,1842.7 L809.4,1842.2 L808.0,1841.7 L806.6,1841.1 L805.2,1840.5 L803.9,1839.8 L802.6,1839.2 L801.3,1838.5 L800.0,1837.8 L798.8,1837.0 L797.7,1836.2 L796.5,1835.4 L795.4,1834.6 L794.4,1833.8 L793.3,1832.9 L792.4,1832.0 L791.4,1831.1 L790.5,1830.2 L789.7,1829.2 L788.8,1828.3 L788.1,1827.3 L787.4,1826.3 L786.7,1825.3 L786.1,1824.2 L785.5,1823.2 L784.9,1822.1 L784.5,1821.1 L784.0,1820.0 L783.7,1818.9 L783.3,1817.8 L783.0,1816.7 L782.8,1815.6 L782.6,1814.5 L782.5,1813.4 L782.4,1812.3 L782.4,1811.2 L782.4,1808.7 L782.5,1807.0 L782.6,1805.5 L782.7,1804.0 L782.9,1802.7 L783.1,1801.5 L783.4,1800.2 L783.7,1799.1 L784.0,1798.0 L784.4,1796.9 L784.8,1795.8 L785.2,1794.8 L785.7,1793.8 L786.3,1792.9 L786.8,1791.9 L787.4,1791.1 L788.1,1790.2 L788.8,1789.3 L789.5,1788.5 L790.2,1787.7 L791.0,1787.0 L791.9,1786.2 L792.7,1785.5 L793.6,1784.9 L794.6,1784.2 L795.6,1783.6 L796.6,1783.0 L797.7,1782.4 L798.7,1781.9 L799.9,1781.4 L801.1,1781.0 L802.3,1780.5 L803.5,1780.1 L804.8,1779.8 L806.1,1779.5 L807.5,1779.2 L808.9,1779.0 L810.3,1778.8 L811.8,1778.6 L813.4,1778.5 L815.0,1778.5 L816.6,1778.5 L818.3,1778.5 L820.1,1778.6 L822.0,1778.7 L824.0,1778.8 L826.0,1778.9 L828.3,1779.1 L830.9,1779.2 L834.5,1779.3 L838.1,1779.2 L840.7,1779.1 L843.0,1778.9 L845.0,1778.8 L847.0,1778.7 L848.9,1778.6 L850.7,1778.5 L852.4,1778.5 L854.0,1778.5 L855.6,1778.5 L857.2,1778.6 L858.7,1778.8 L860.1,1779.0 L861.5,1779.2 L862.9,1779.5 L864.2,1779.8 L865.5,1780.1 L866.7,1780.5 L867.9,1781.0 L869.1,1781.4 L870.3,1781.9 L871.3,1782.4 L872.4,1783.0 L873.4,1783.6 L874.4,1784.2 L875.4,1784.9 L876.3,1785.5 L877.1,1786.2 L878.0,1787.0 L878.8,1787.7 L879.5,1788.5 L880.2,1789.3 L880.9,1790.2 L881.6,1791.1 L882.2,1791.9 L882.7,1792.9 L883.3,1793.8 L883.8,1794.8 L884.2,1795.8 L884.6,1796.9 L885.0,1798.0 L885.3,1799.1 L885.6,1800.2 L885.9,1801.5 L886.1,1802.7 L886.3,1804.0 L886.4,1805.5 L886.5,1807.0 L886.6,1808.7 L886.6,1811.2Z" fill="url(#stip)" stroke="#000" stroke-width="2.8" stroke-linejoin="round"/>
<path d="M1216.7,1750.5 L1216.7,1752.8 L1216.6,1754.5 L1216.5,1756.0 L1216.4,1757.4 L1216.2,1758.7 L1216.0,1759.9 L1215.7,1761.1 L1215.4,1762.3 L1215.1,1763.3 L1214.7,1764.4 L1214.3,1765.4 L1213.9,1766.4 L1213.4,1767.4 L1212.9,1768.3 L1212.3,1769.2 L1211.7,1770.0 L1211.0,1770.9 L1210.4,1771.7 L1209.6,1772.5 L1208.9,1773.2 L1208.1,1773.9 L1207.3,1774.6 L1206.4,1775.3 L1205.5,1775.9 L1204.6,1776.5 L1203.6,1777.1 L1202.6,1777.6 L1201.5,1778.1 L1200.4,1778.6 L1199.3,1779.0 L1198.1,1779.4 L1196.9,1779.7 L1195.7,1780.0 L1194.4,1780.3 L1193.1,1780.5 L1191.7,1780.7 L1190.3,1780.8 L1188.9,1780.9 L1187.4,1781.0 L1185.8,1781.0 L1184.2,1780.9 L1182.6,1780.9 L1180.9,1780.7 L1179.1,1780.6 L1177.3,1780.4 L1175.3,1780.2 L1173.2,1780.0 L1171.0,1779.9 L1168.4,1779.7 L1164.8,1779.6 L1161.2,1779.7 L1158.6,1779.9 L1156.4,1780.0 L1154.3,1780.2 L1152.3,1780.4 L1150.5,1780.6 L1148.7,1780.7 L1147.0,1780.9 L1145.4,1780.9 L1143.8,1781.0 L1142.2,1781.0 L1140.7,1780.9 L1139.3,1780.8 L1137.9,1780.7 L1136.5,1780.5 L1135.2,1780.3 L1133.9,1780.0 L1132.7,1779.7 L1131.5,1779.4 L1130.3,1779.0 L1129.2,1778.6 L1128.1,1778.1 L1127.0,1777.6 L1126.0,1777.1 L1125.0,1776.5 L1124.1,1775.9 L1123.2,1775.3 L1122.3,1774.6 L1121.5,1773.9 L1120.7,1773.2 L1120.0,1772.5 L1119.2,1771.7 L1118.6,1770.9 L1117.9,1770.0 L1117.3,1769.2 L1116.7,1768.3 L1116.2,1767.4 L1115.7,1766.4 L1115.3,1765.4 L1114.9,1764.4 L1114.5,1763.3 L1114.2,1762.3 L1113.9,1761.1 L1113.6,1759.9 L1113.4,1758.7 L1113.2,1757.4 L1113.1,1756.0 L1113.0,1754.5 L1112.9,1752.8 L1112.9,1750.4 L1112.9,1749.4 L1113.0,1748.3 L1113.1,1747.2 L1113.3,1746.2 L1113.5,1745.1 L1113.8,1744.0 L1114.1,1743.0 L1114.5,1741.9 L1115.0,1740.8 L1115.4,1739.8 L1116.0,1738.8 L1116.5,1737.8 L1117.2,1736.8 L1117.8,1735.8 L1118.6,1734.8 L1119.3,1733.8 L1120.1,1732.9 L1121.0,1732.0 L1121.9,1731.1 L1122.8,1730.2 L1123.8,1729.3 L1124.8,1728.4 L1125.9,1727.6 L1127.0,1726.8 L1128.1,1726.0 L1129.3,1725.3 L1130.5,1724.5 L1131.7,1723.8 L1133.0,1723.2 L1134.3,1722.5 L1135.6,1721.9 L1137.0,1721.3 L1138.4,1720.7 L1139.8,1720.2 L1141.2,1719.7 L1142.7,1719.2 L1144.2,1718.7 L1145.7,1718.3 L1147.2,1717.9 L1148.8,1717.6 L1150.3,1717.3 L1151.9,1717.0 L1153.5,1716.7 L1155.1,1716.5 L1156.7,1716.3 L1158.3,1716.2 L1159.9,1716.1 L1161.5,1716.0 L1163.2,1715.9 L1164.8,1715.9 L1166.4,1715.9 L1168.1,1716.0 L1169.7,1716.1 L1171.3,1716.2 L1172.9,1716.3 L1174.5,1716.5 L1176.1,1716.7 L1177.7,1717.0 L1179.3,1717.3 L1180.8,1717.6 L1182.4,1717.9 L1183.9,1718.3 L1185.4,1718.7 L1186.9,1719.2 L1188.4,1719.7 L1189.8,1720.2 L1191.2,1720.7 L1192.6,1721.3 L1194.0,1721.9 L1195.3,1722.5 L1196.6,1723.2 L1197.9,1723.8 L1199.1,1724.5 L1200.3,1725.3 L1201.5,1726.0 L1202.6,1726.8 L1203.7,1727.6 L1204.8,1728.4 L1205.8,1729.3 L1206.8,1730.2 L1207.7,1731.1 L1208.6,1732.0 L1209.5,1732.9 L1210.3,1733.8 L1211.0,1734.8 L1211.8,1735.8 L1212.4,1736.8 L1213.1,1737.8 L1213.6,1738.8 L1214.2,1739.8 L1214.6,1740.8 L1215.1,1741.9 L1215.5,1743.0 L1215.8,1744.0 L1216.1,1745.1 L1216.3,1746.2 L1216.5,1747.2 L1216.6,1748.3 L1216.7,1749.4 L1216.7,1750.5Z" fill="url(#stip)" stroke="#000" stroke-width="2.8" stroke-linejoin="round"/>
<path d="M1546.1,1795.6 L1546.1,1796.7 L1546.0,1797.7 L1545.9,1798.8 L1545.7,1799.8 L1545.5,1800.9 L1545.2,1801.9 L1544.9,1803.0 L1544.5,1804.0 L1544.0,1805.0 L1543.6,1806.0 L1543.0,1807.0 L1542.5,1808.0 L1541.8,1809.0 L1541.2,1809.9 L1540.4,1810.9 L1539.7,1811.8 L1538.9,1812.8 L1538.0,1813.7 L1537.1,1814.5 L1536.2,1815.4 L1535.2,1816.3 L1534.2,1817.1 L1533.1,1817.9 L1532.0,1818.7 L1530.9,1819.4 L1529.7,1820.2 L1528.5,1820.9 L1527.3,1821.6 L1526.0,1822.2 L1524.7,1822.9 L1523.4,1823.5 L1522.0,1824.1 L1520.6,1824.6 L1519.2,1825.1 L1517.8,1825.6 L1516.3,1826.1 L1514.8,1826.5 L1513.3,1826.9 L1511.8,1827.3 L1510.2,1827.7 L1508.7,1828.0 L1507.1,1828.2 L1505.5,1828.5 L1503.9,1828.7 L1502.3,1828.9 L1500.7,1829.0 L1499.1,1829.2 L1497.5,1829.2 L1495.8,1829.3 L1494.2,1829.3 L1492.6,1829.3 L1490.9,1829.2 L1489.3,1829.2 L1487.7,1829.0 L1486.1,1828.9 L1484.5,1828.7 L1482.9,1828.5 L1481.3,1828.2 L1479.7,1828.0 L1478.2,1827.7 L1476.6,1827.3 L1475.1,1826.9 L1473.6,1826.5 L1472.1,1826.1 L1470.6,1825.6 L1469.2,1825.1 L1467.8,1824.6 L1466.4,1824.1 L1465.0,1823.5 L1463.7,1822.9 L1462.4,1822.2 L1461.1,1821.6 L1459.9,1820.9 L1458.7,1820.2 L1457.5,1819.4 L1456.4,1818.7 L1455.3,1817.9 L1454.2,1817.1 L1453.2,1816.3 L1452.2,1815.4 L1451.3,1814.5 L1450.4,1813.7 L1449.5,1812.8 L1448.7,1811.8 L1448.0,1810.9 L1447.2,1809.9 L1446.6,1809.0 L1445.9,1808.0 L1445.4,1807.0 L1444.8,1806.0 L1444.4,1805.0 L1443.9,1804.0 L1443.5,1803.0 L1443.2,1801.9 L1442.9,1800.9 L1442.7,1799.8 L1442.5,1798.8 L1442.4,1797.7 L1442.3,1796.7 L1442.3,1795.6 L1442.3,1793.3 L1442.4,1791.6 L1442.5,1790.1 L1442.6,1788.8 L1442.8,1787.5 L1443.0,1786.3 L1443.3,1785.2 L1443.6,1784.1 L1443.9,1783.0 L1444.3,1782.0 L1444.7,1781.0 L1445.1,1780.0 L1445.6,1779.1 L1446.1,1778.2 L1446.7,1777.3 L1447.3,1776.4 L1448.0,1775.6 L1448.6,1774.8 L1449.4,1774.0 L1450.1,1773.3 L1450.9,1772.6 L1451.7,1771.9 L1452.6,1771.2 L1453.5,1770.6 L1454.4,1770.0 L1455.4,1769.4 L1456.4,1768.8 L1457.5,1768.3 L1458.6,1767.8 L1459.7,1767.4 L1460.9,1766.9 L1462.1,1766.6 L1463.3,1766.2 L1464.6,1765.9 L1465.9,1765.6 L1467.3,1765.4 L1468.7,1765.3 L1470.1,1765.1 L1471.6,1765.1 L1473.2,1765.0 L1474.8,1765.0 L1476.4,1765.1 L1478.1,1765.2 L1479.9,1765.4 L1481.7,1765.6 L1483.7,1765.8 L1485.8,1766.0 L1488.0,1766.2 L1490.6,1766.4 L1494.2,1766.5 L1497.8,1766.4 L1500.4,1766.2 L1502.6,1766.0 L1504.7,1765.8 L1506.7,1765.6 L1508.5,1765.4 L1510.3,1765.2 L1512.0,1765.1 L1513.6,1765.0 L1515.2,1765.0 L1516.8,1765.1 L1518.3,1765.1 L1519.7,1765.3 L1521.1,1765.4 L1522.5,1765.6 L1523.8,1765.9 L1525.1,1766.2 L1526.3,1766.6 L1527.5,1766.9 L1528.7,1767.4 L1529.8,1767.8 L1530.9,1768.3 L1532.0,1768.8 L1533.0,1769.4 L1534.0,1770.0 L1534.9,1770.6 L1535.8,1771.2 L1536.7,1771.9 L1537.5,1772.6 L1538.3,1773.3 L1539.0,1774.0 L1539.8,1774.8 L1540.4,1775.6 L1541.1,1776.4 L1541.7,1777.3 L1542.3,1778.2 L1542.8,1779.1 L1543.3,1780.0 L1543.7,1781.0 L1544.1,1782.0 L1544.5,1783.0 L1544.8,1784.1 L1545.1,1785.2 L1545.4,1786.3 L1545.6,1787.5 L1545.8,1788.8 L1545.9,1790.1 L1546.0,1791.6 L1546.1,1793.3 L1546.1,1795.6Z" fill="url(#stip)" stroke="#000" stroke-width="2.8" stroke-linejoin="round"/>
<polyline points="265.0,1684.0 267.7,1737.7" fill="none" stroke="#000" stroke-width="3.2" stroke-linejoin="round" stroke-linecap="butt"/>
<polyline points="381.3,1735.8 267.7,1737.7 216.2,1803.7 269.9,1865.6 404.7,1862.9 468.0,1798.2 415.2,1750.0" fill="none" stroke="#000" stroke-width="3.2" stroke-linejoin="round" stroke-linecap="butt"/>
<text x="0" y="0" transform="translate(399.2,1747.9) scale(0.88,1)" font-family="Liberation Serif" font-size="36.5" text-anchor="middle" stroke="#000" stroke-width="0.6" stroke-linejoin="round">O</text>
<polyline points="468.0,1798.2 492.8,1776.2" fill="none" stroke="#000" stroke-width="3.2" stroke-linejoin="round" stroke-linecap="butt"/>
<text x="0" y="0" transform="translate(503.0,1773.9) scale(0.88,1)" font-family="Liberation Serif" font-size="36.5" text-anchor="middle" stroke="#000" stroke-width="0.6" stroke-linejoin="round">O</text>
<text x="0" y="0" transform="translate(158.4,1816.1) rotate(-1.0) scale(0.92,1)" font-family="Liberation Serif" font-size="35" textLength="53.9" lengthAdjust="spacing" stroke="#000" stroke-width="0.6" stroke-linejoin="round">HO</text>
<text x="0" y="0" transform="translate(264.4,1678.2)" font-family="Liberation Serif" font-size="15" text-anchor="middle" stroke="#000" stroke-width="0.7" stroke-linejoin="round">6</text>
<text x="0" y="0" transform="translate(254.0,1736.0)" font-family="Liberation Serif" font-size="15" text-anchor="middle" stroke="#000" stroke-width="0.7" stroke-linejoin="round">5</text>
<text x="0" y="0" transform="translate(232.7,1810.2)" font-family="Liberation Serif" font-size="15" text-anchor="middle" stroke="#000" stroke-width="0.7" stroke-linejoin="round">4</text>
<text x="0" y="0" transform="translate(448.7,1804.8)" font-family="Liberation Serif" font-size="15" text-anchor="middle" stroke="#000" stroke-width="0.7" stroke-linejoin="round">1</text>
<text x="0" y="0" transform="translate(393.7,1855.8)" font-family="Liberation Serif" font-size="15" text-anchor="middle" stroke="#000" stroke-width="0.7" stroke-linejoin="round">2</text>
<text x="0" y="0" transform="translate(276.8,1857.2)" font-family="Liberation Serif" font-size="15" text-anchor="middle" stroke="#000" stroke-width="0.7" stroke-linejoin="round">3</text>
<polyline points="512.0,1776.2 535.4,1795.5 599.8,1730.8 734.6,1728.6 795.2,1783.1 747.0,1842.3" fill="none" stroke="#000" stroke-width="3.2" stroke-linejoin="round" stroke-linecap="butt"/>
<polyline points="716.8,1856.0 599.8,1857.4 535.4,1795.5" fill="none" stroke="#000" stroke-width="3.2" stroke-linejoin="round" stroke-linecap="butt"/>
<polyline points="599.8,1857.4 602.6,1915.2" fill="none" stroke="#000" stroke-width="3.2" stroke-linejoin="round" stroke-linecap="butt"/>
<text x="0" y="0" transform="translate(734.0,1866.2) scale(0.88,1)" font-family="Liberation Serif" font-size="36.5" text-anchor="middle" stroke="#000" stroke-width="0.6" stroke-linejoin="round">O</text>
<polyline points="795.2,1783.1 820.0,1806.5" fill="none" stroke="#000" stroke-width="3.2" stroke-linejoin="round" stroke-linecap="butt"/>
<text x="0" y="0" transform="translate(836.5,1831.8) scale(0.88,1)" font-family="Liberation Serif" font-size="36.5" text-anchor="middle" stroke="#000" stroke-width="0.6" stroke-linejoin="round">O</text>
<text x="0" y="0" transform="translate(553.3,1802.2)" font-family="Liberation Serif" font-size="15" text-anchor="middle" stroke="#000" stroke-width="0.7" stroke-linejoin="round">4</text>
<text x="0" y="0" transform="translate(609.4,1751.2)" font-family="Liberation Serif" font-size="15" text-anchor="middle" stroke="#000" stroke-width="0.7" stroke-linejoin="round">3</text>
<text x="0" y="0" transform="translate(725.8,1751.2)" font-family="Liberation Serif" font-size="15" text-anchor="middle" stroke="#000" stroke-width="0.7" stroke-linejoin="round">2</text>
<text x="0" y="0" transform="translate(775.4,1789.8)" font-family="Liberation Serif" font-size="15" text-anchor="middle" stroke="#000" stroke-width="0.7" stroke-linejoin="round">1</text>
<text x="0" y="0" transform="translate(588.8,1873.7)" font-family="Liberation Serif" font-size="15" text-anchor="middle" stroke="#000" stroke-width="0.7" stroke-linejoin="round">5</text>
<text x="0" y="0" transform="translate(603.9,1928.7)" font-family="Liberation Serif" font-size="15" text-anchor="middle" stroke="#000" stroke-width="0.7" stroke-linejoin="round">6</text>
<rect x="612.5" y="1816" width="2" height="2" fill="#777"/><rect x="612.5" y="1826" width="2.5" height="2" fill="#222"/>
<polyline points="930.0,1659.3 931.4,1725.3" fill="none" stroke="#000" stroke-width="3.2" stroke-linejoin="round" stroke-linecap="butt"/>
<polyline points="1048.0,1722.4 931.4,1725.3 872.2,1783.1 931.4,1851.9 1066.0,1848.4 1132.0,1784.6 1077.8,1736.1" fill="none" stroke="#000" stroke-width="3.2" stroke-linejoin="round" stroke-linecap="butt"/>
<text x="0" y="0" transform="translate(1064.3,1734.0) scale(0.88,1)" font-family="Liberation Serif" font-size="36.5" text-anchor="middle" stroke="#000" stroke-width="0.6" stroke-linejoin="round">O</text>
<polyline points="846.1,1806.5 872.2,1783.1" fill="none" stroke="#000" stroke-width="3.2" stroke-linejoin="round" stroke-linecap="butt"/>
<polyline points="1132.0,1784.6 1158.1,1761.7" fill="none" stroke="#000" stroke-width="3.2" stroke-linejoin="round" stroke-linecap="butt"/>
<text x="0" y="0" transform="translate(1165.0,1758.8) scale(0.88,1)" font-family="Liberation Serif" font-size="36.5" text-anchor="middle" stroke="#000" stroke-width="0.6" stroke-linejoin="round">O</text>
<rect x="1061" y="1668.5" width="4" height="2" fill="#000"/>
<polyline points="1178.8,1761.7 1198.0,1782.4 1264.0,1717.7 1398.9,1714.9 1453.7,1769.0 1410.5,1826.0" fill="none" stroke="#000" stroke-width="3.2" stroke-linejoin="round" stroke-linecap="butt"/>
<polyline points="1385.2,1840.1 1265.5,1842.9 1198.0,1782.4" fill="none" stroke="#000" stroke-width="3.2" stroke-linejoin="round" stroke-linecap="butt"/>
<polyline points="1265.5,1842.9 1268.7,1909.0" fill="none" stroke="#000" stroke-width="3.2" stroke-linejoin="round" stroke-linecap="butt"/>
<text x="0" y="0" transform="translate(1399.0,1853.0) scale(0.88,1)" font-family="Liberation Serif" font-size="36.5" text-anchor="middle" stroke="#000" stroke-width="0.6" stroke-linejoin="round">O</text>
<polyline points="1453.7,1769.0 1482.6,1793.4" fill="none" stroke="#000" stroke-width="3.2" stroke-linejoin="round" stroke-linecap="butt"/>
<text x="0" y="0" transform="translate(1497.7,1818.6) scale(0.88,1)" font-family="Liberation Serif" font-size="36.5" text-anchor="middle" stroke="#000" stroke-width="0.6" stroke-linejoin="round">O</text>
<polyline points="1588.5,1646.1 1591.2,1712.2" fill="none" stroke="#000" stroke-width="3.2" stroke-linejoin="round" stroke-linecap="butt"/>
<polyline points="1716.5,1708.6 1591.2,1712.2 1534.8,1770.0 1594.0,1838.8 1730.2,1836.0 1783.9,1774.1 1741.2,1723.2" fill="none" stroke="#000" stroke-width="3.2" stroke-linejoin="round" stroke-linecap="butt"/>
<text x="0" y="0" transform="translate(1731.6,1720.2) scale(0.88,1)" font-family="Liberation Serif" font-size="36.5" text-anchor="middle" stroke="#000" stroke-width="0.6" stroke-linejoin="round">O</text>
<polyline points="1510.0,1792.0 1534.8,1770.0" fill="none" stroke="#000" stroke-width="3.2" stroke-linejoin="round" stroke-linecap="butt"/>
<polyline points="1783.9,1774.1 1836.2,1831.9" fill="none" stroke="#000" stroke-width="3.2" stroke-linejoin="round" stroke-linecap="butt"/>
<text x="0" y="0" transform="translate(1825.2,1856.7) rotate(-1.0) scale(0.92,1)" font-family="Liberation Serif" font-size="35" textLength="53.8" lengthAdjust="spacing" stroke="#000" stroke-width="0.6" stroke-linejoin="round">OH</text>
<text x="0" y="0" transform="translate(941.0,1920.7) rotate(-1.0)" font-family="Liberation Serif" font-size="31.5" textLength="116.7" lengthAdjust="spacing" stroke="#000" stroke-width="0.6" stroke-linejoin="round">cellulose</text>
<g clip-path="url(#scan)">
<text x="1239.4" y="2106.8" transform="rotate(-0.7 1239.4 2106.8)" font-family="Liberation Sans" font-style="italic" font-size="38.5" stroke="#000" stroke-width="0.6" textLength="629.6" lengthAdjust="spacing">(a) Formation of a disaccharide and a</text>
<text x="1059.5" y="2154" transform="rotate(-0.7 1059.5 2154)" font-family="Liberation Sans" font-style="italic" font-size="38.5" stroke="#000" stroke-width="0.6" textLength="1004.5" lengthAdjust="spacing">polysaccharide. NB Only the relevant parts of the molecules</text>
<text x="1060" y="2197.5" transform="rotate(-0.7 1060 2197.5)" font-family="Liberation Sans" font-style="italic" font-size="38.5" stroke="#000" stroke-width="0.6" textLength="940.2" lengthAdjust="spacing">are shown. A complete glucose molecule is shown in fig</text>
<text x="1062.5" y="2239.5" transform="rotate(-0.7 1062.5 2239.5)" font-family="Liberation Sans" font-style="italic" font-size="38.5" stroke="#000" stroke-width="0.6" textLength="951.3" lengthAdjust="spacing">5.13. (b) Structure of cellulose. In some polysaccharides,</text>
<text x="1063" y="2282" transform="rotate(-0.7 1063 2282)" font-family="Liberation Sans" font-style="italic" font-size="38.5" stroke="#000" stroke-width="0.6" textLength="865.7" lengthAdjust="spacing">units may be spun through 180° at each successive</text>
<text x="1064.8" y="2324.5" transform="rotate(-0.7 1064.8 2324.5)" font-family="Liberation Sans" font-style="italic" font-size="38.5" stroke="#000" stroke-width="0.6" textLength="480.2" lengthAdjust="spacing">condensation, as in cellulose</text>
</g>
<rect x="72" y="1956" width="2" height="2" fill="#666"/>
<rect x="480" y="2060" width="2" height="2" fill="#666"/>
<rect x="622" y="2202" width="2" height="2" fill="#666"/>
<rect x="1250" y="154" width="3" height="2" fill="#666"/>
<rect x="2136" y="289" width="6" height="2" fill="#444"/>
<rect x="2138" y="286" width="2" height="2" fill="#444"/>
<rect x="2130" y="820" width="14" height="2" fill="#444"/>
<rect x="2128" y="835" width="12" height="2" fill="#444"/>
<rect x="2130" y="1020" width="16" height="2" fill="#444"/>
<rect x="2128" y="1033" width="14" height="2" fill="#444"/>
<rect x="2131" y="1660" width="3" height="2" fill="#444"/>
<rect x="2139" y="2333" width="2" height="2" fill="#444"/>
<rect x="2136" y="2345" width="3" height="2" fill="#444"/>
</svg></body></html>
